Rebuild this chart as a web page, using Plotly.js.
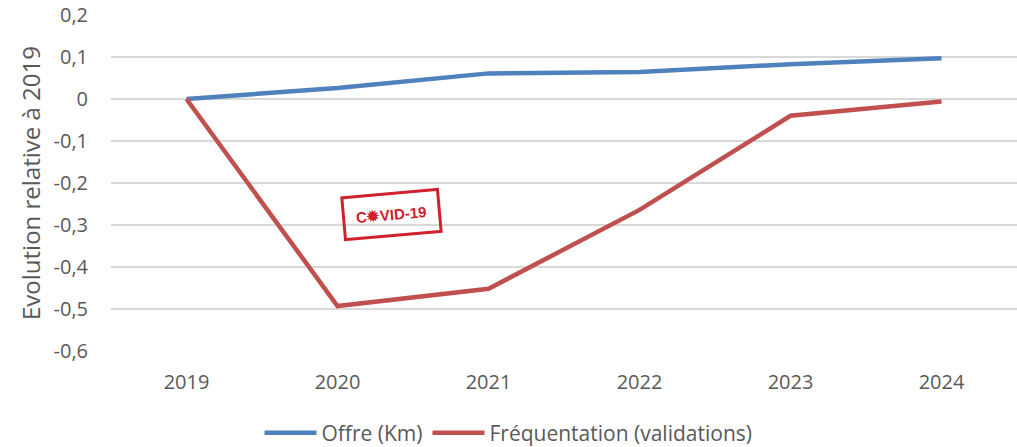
<!DOCTYPE html>
<html>
<head>
<meta charset="utf-8">
<script src="https://cdn.plot.ly/plotly-3.0.1.min.js"></script>
<style>
  html, body { margin: 0; padding: 0; background: #fff; }
  #chart { width: 1017px; height: 447px; }
</style>
</head>
<body>
<div id="chart"></div>
<script>
  const years = ["2019", "2020", "2021", "2022", "2023", "2024"]
  const offreKm = [0, 0.026, 0.061, 0.064, 0.083, 0.097]
  const frequentation = [0, -0.493, -0.452, -0.264, -0.040, -0.006]
  const yTicks = [0.2, 0.1, 0, -0.1, -0.2, -0.3, -0.4, -0.5, -0.6]
  const yTickLabels = ["0,2", "0,1", "0", "-0,1", "-0,2", "-0,3", "-0,4", "-0,5", "-0,6"]

  const font = "Open Sans, Liberation Sans, sans-serif"
  const grey = "#595959"

  const data = [
    {x: years, y: offreKm, type: "scatter", mode: "lines", name: "Offre (Km)",
     line: {color: "#4f81bd", width: 4.5}},
    {x: years, y: frequentation, type: "scatter", mode: "lines", name: "Fréquentation (validations)",
     line: {color: "#c0504d", width: 4.5}}
  ]

  const layout = {
    width: 1017, height: 447,
    margin: {l: 111, r: 0, t: 15, b: 96, autoexpand: false},
    paper_bgcolor: "#fff", plot_bgcolor: "#fff",
    font: {family: font, color: grey, size: 20},
    xaxis: {
      type: "category", range: [-0.5, 5.5],
      showgrid: false, zeroline: false, showline: false,
      ticks: "", ticklabelstandoff: 17,
      tickfont: {size: 20, color: grey}
    },
    yaxis: {
      range: [-0.6, 0.2], tickvals: yTicks, ticktext: yTickLabels,
      showgrid: true, gridcolor: "#d9d9d9", gridwidth: 1.5,
      zeroline: false, showline: false, ticks: "", ticklabelstandoff: 22,
      tickfont: {size: 20, color: grey},
      title: {text: "Evolution relative à 2019", font: {size: 24, color: grey}, standoff: 6}
    },
    showlegend: true,
    legend: {orientation: "h", x: 0.5, xanchor: "center", xref: "container",
             y: 0.031, yanchor: "middle", yref: "container",
             font: {size: 21, color: grey}, itemwidth: 52, tracegroupgap: 0},
    annotations: [{
      x: 1.36, y: -0.276, xref: "x", yref: "y", showarrow: false,
      text: "<b>C✹VID-19</b>", textangle: -5,
      font: {family: "Liberation Sans, sans-serif", size: 15, color: "#d0212f"},
      bordercolor: "#d0212f", borderwidth: 3, borderpad: 11, bgcolor: "rgba(255,255,255,0)"
    }]
  }

  Plotly.newPlot("chart", data, layout, {displayModeBar: false, staticPlot: true})
</script>
</body>
</html>
